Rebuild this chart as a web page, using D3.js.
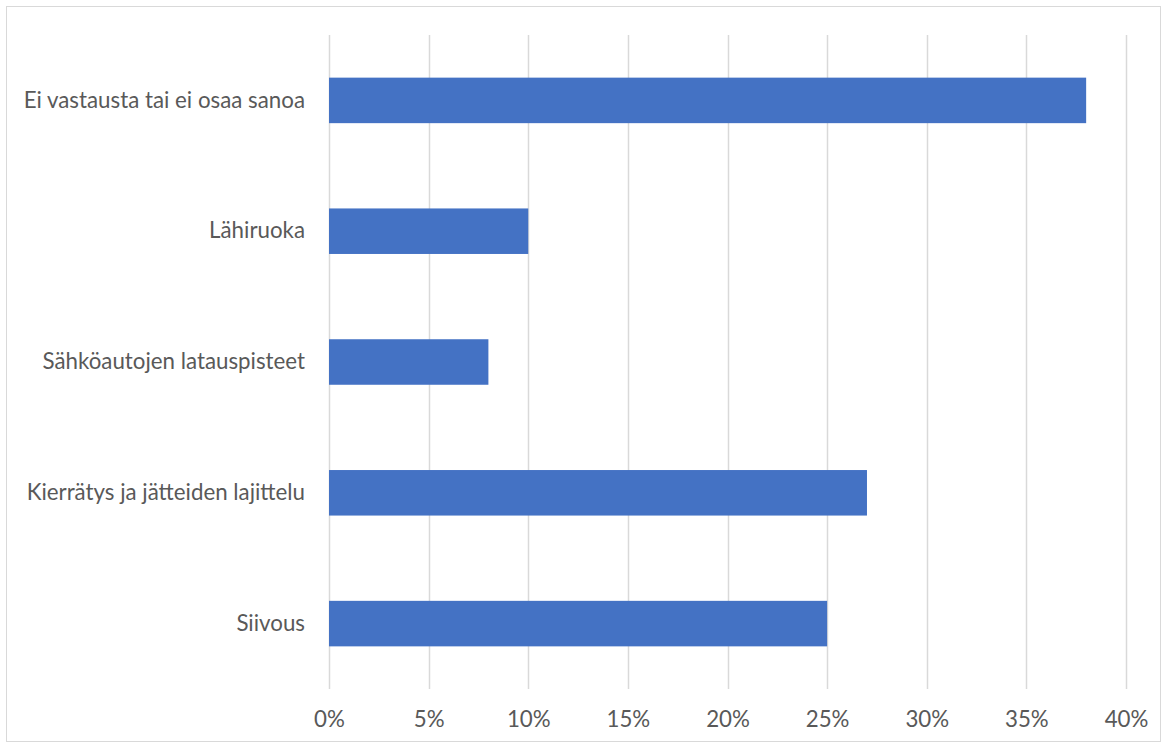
<!DOCTYPE html>
<html>
<head>
<meta charset="utf-8">
<script src="https://cdn.jsdelivr.net/npm/d3@7"></script>
<style>
  body { margin: 0; background: #fff; }
  svg { display: block; }
</style>
</head>
<body>
<svg id="chart"></svg>
<script>
// data, top to bottom as drawn
const categories = [
  "Ei vastausta tai ei osaa sanoa",
  "Lähiruoka",
  "Sähköautojen latauspisteet",
  "Kierrätys ja jätteiden lajittelu",
  "Siivous"
];
const values = [0.38, 0.10, 0.08, 0.27, 0.25];
const tickValues = [0, 0.05, 0.10, 0.15, 0.20, 0.25, 0.30, 0.35, 0.40];

const width = 1167, height = 746;
const margin = { top: 35, right: 41, bottom: 57, left: 329 };
const font = "Lato, 'Open Sans', sans-serif";
const fontSize = "22.3px";

const svg = d3.select("#chart")
  .attr("width", width)
  .attr("height", height);

// outer chart border
svg.append("rect")
  .attr("x", 6.5).attr("y", 6.5)
  .attr("width", 1154).attr("height", 735)
  .attr("fill", "none")
  .attr("stroke", "#d9d9d9");

const x = d3.scaleLinear()
  .domain([0, 0.40])
  .range([margin.left, width - margin.right]);

const y = d3.scaleBand()
  .domain(categories)
  .range([margin.top, height - margin.bottom])
  .paddingInner(0.652)
  .paddingOuter(0.326);

// vertical gridlines
svg.append("g")
  .selectAll("line")
  .data(tickValues)
  .join("line")
    .attr("x1", d => Math.round(x(d)) + 0.5)
    .attr("x2", d => Math.round(x(d)) + 0.5)
    .attr("y1", margin.top)
    .attr("y2", height - margin.bottom)
    .attr("stroke", "#d9d9d9")
    .attr("stroke-width", 1.5);

// bars
svg.append("g")
  .selectAll("rect")
  .data(values)
  .join("rect")
    .attr("x", x(0))
    .attr("y", (d, i) => y(categories[i]))
    .attr("width", d => x(d) - x(0))
    .attr("height", y.bandwidth())
    .attr("fill", "#4472c4");

// x axis labels
const xAxis = d3.axisBottom(x)
  .tickValues(tickValues)
  .tickFormat(d3.format(".0%"))
  .tickSize(0)
  .tickPadding(22);

svg.append("g")
  .attr("transform", `translate(0,${height - margin.bottom})`)
  .call(xAxis)
  .call(g => g.select(".domain").remove())
  .selectAll("text")
    .attr("fill", "#595959")
    .style("font-family", font)
    .style("font-size", fontSize);

// y axis labels
const yAxis = d3.axisLeft(y)
  .tickSize(0)
  .tickPadding(24);

svg.append("g")
  .attr("transform", `translate(${margin.left},0)`)
  .call(yAxis)
  .call(g => g.select(".domain").remove())
  .selectAll("text")
    .attr("fill", "#595959")
    .style("font-family", font)
    .style("font-size", fontSize);
</script>
</body>
</html>
